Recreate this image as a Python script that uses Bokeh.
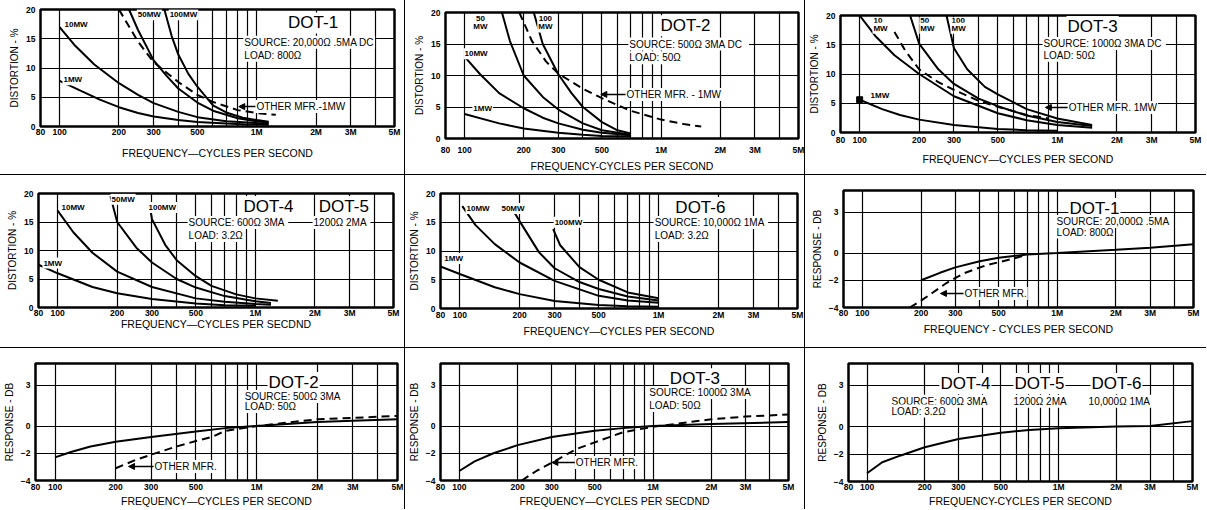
import math
from bokeh.plotting import figure
from bokeh.models import (Range1d, FixedTicker, CustomJSTickFormatter, Label,
                          Arrow, NormalHead, Div)
from bokeh.layouts import row, column
from bokeh.embed import file_html
from bokeh.resources import INLINE

# ---------------- axes / ticks ----------------
X_TICKS = [80, 100, 200, 300, 500, 1000, 2000, 3000, 5000]
X_TICK_LABELS = ["80", "100", "200", "300", "500", "1M", "2M", "3M", "5M"]
X_GRID = [100, 200, 300, 400, 500, 600, 700, 800, 900, 1000, 2000, 3000, 4000]
DIST_TICKS = [0, 5, 10, 15, 20]
DIST_GRID = [5, 10, 15]
RESP_TICKS = [-4, -2, 0, 3]
RESP_GRID = [-2, 0, 3]

# ---------------- data: DOT-1 distortion ----------------
d1_1mw_f = [100, 130, 160, 200, 250, 300, 400, 500, 700, 900, 1150]
d1_1mw_v = [7.8, 6.0, 4.6, 3.3, 2.3, 1.7, 1.1, 0.75, 0.5, 0.35, 0.3]
d1_10mw_f = [100, 120, 150, 200, 250, 300, 400, 500, 700, 1000, 1150]
d1_10mw_v = [17.0, 13.8, 10.6, 7.4, 5.4, 4.0, 2.5, 1.6, 0.9, 0.6, 0.5]
d1_50mw_f = [225, 250, 300, 350, 400, 500, 600, 800, 1000, 1150]
d1_50mw_v = [20.0, 16.5, 11.3, 8.6, 6.5, 4.1, 2.7, 1.4, 0.9, 0.7]
d1_100mw_f = [340, 370, 400, 450, 500, 600, 700, 850, 1000, 1150]
d1_100mw_v = [20.0, 15.5, 12.3, 9.0, 6.8, 3.6, 2.4, 1.5, 1.1, 0.8]
d1_other_f = [200, 250, 300, 400, 500, 600, 800, 1000, 1250]
d1_other_v = [20.0, 14.5, 11.0, 7.6, 5.4, 4.2, 2.8, 2.3, 2.0]

# ---------------- data: DOT-2 distortion ----------------
d2_1mw_f = [100, 150, 200, 300, 400, 500, 700]
d2_1mw_v = [3.9, 2.4, 1.6, 0.9, 0.6, 0.4, 0.3]
d2_10mw_f = [100, 120, 150, 200, 250, 300, 400, 500, 700]
d2_10mw_v = [13.0, 10.2, 7.2, 4.8, 3.3, 2.4, 1.4, 0.9, 0.5]
d2_50mw_f = [155, 170, 200, 250, 300, 400, 500, 700]
d2_50mw_v = [20.0, 15.5, 10.0, 6.6, 4.6, 2.4, 1.3, 0.6]
d2_100mw_f = [225, 250, 300, 350, 400, 500, 600, 700]
d2_100mw_v = [20.0, 15.0, 10.2, 7.2, 5.0, 2.6, 1.3, 0.8]
d2_other_f = [190, 220, 260, 300, 400, 500, 700, 1000, 1300, 1600]
d2_other_v = [20.0, 15.5, 12.2, 10.3, 7.9, 6.4, 4.4, 3.0, 2.3, 1.9]

# ---------------- data: DOT-3 distortion ----------------
d3_1mw_f = [100, 130, 160, 200, 300, 500, 700, 1000]
d3_1mw_v = [5.6, 4.0, 3.0, 2.2, 1.3, 0.6, 0.4, 0.3]
d3_10mw_f = [100, 120, 150, 200, 300, 500, 700, 1000, 1500]
d3_10mw_v = [20.0, 16.5, 13.2, 10.0, 6.2, 3.3, 2.1, 1.3, 0.8]
d3_50mw_f = [180, 200, 250, 300, 400, 500, 700, 1000, 1500]
d3_50mw_v = [20.0, 15.2, 10.8, 8.3, 5.8, 4.5, 2.9, 1.8, 1.1]
d3_100mw_f = [275, 300, 350, 430, 500, 700, 1000, 1500]
d3_100mw_v = [20.0, 14.4, 10.8, 7.8, 6.5, 4.0, 2.4, 1.3]
d3_other_f = [150, 170, 200, 250, 300, 400, 500, 700, 900]
d3_other_v = [17.2, 14.0, 10.8, 8.6, 7.3, 5.4, 4.4, 3.0, 2.4]

# ---------------- data: DOT-4 / DOT-5 distortion ----------------
d4_1mw_f = [80, 100, 150, 200, 300, 500, 700, 1000]
d4_1mw_v = [7.5, 6.0, 3.6, 2.5, 1.5, 0.7, 0.4, 0.3]
d4_10mw_f = [100, 120, 150, 200, 300, 500, 700, 1000, 1200]
d4_10mw_v = [17.0, 13.2, 9.6, 6.3, 3.6, 1.6, 1.0, 0.6, 0.5]
d4_50mw_f = [185, 200, 250, 300, 400, 500, 700, 1000, 1200]
d4_50mw_v = [19.5, 15.0, 10.5, 7.9, 5.0, 3.5, 2.0, 1.1, 0.8]
d4_100mw_f = [290, 300, 350, 400, 500, 600, 800, 1000, 1300]
d4_100mw_v = [18.5, 15.5, 11.0, 8.3, 5.5, 3.8, 2.3, 1.6, 1.2]

# ---------------- data: DOT-6 distortion ----------------
d6_1mw_f = [80, 100, 150, 200, 300, 500, 700, 1000]
d6_1mw_v = [7.3, 6.0, 3.7, 2.5, 1.3, 0.6, 0.4, 0.3]
d6_10mw_f = [103, 120, 150, 200, 300, 500, 700, 1000]
d6_10mw_v = [17.8, 14.5, 11.2, 8.0, 4.8, 2.2, 1.4, 1.0]
d6_50mw_f = [180, 200, 250, 300, 400, 500, 700, 1000]
d6_50mw_v = [17.8, 15.2, 9.8, 7.0, 4.6, 3.4, 2.1, 1.4]
d6_100mw_f = [295, 320, 400, 500, 700, 1000]
d6_100mw_v = [13.8, 11.0, 7.2, 5.0, 2.8, 1.8]

# ---------------- data: frequency response ----------------
r1_f = [200, 250, 300, 400, 500, 700, 1000, 2000, 3000, 5000]
r1_v = [-2.0, -1.45, -1.05, -0.6, -0.35, -0.1, 0.0, 0.25, 0.4, 0.65]
r1_other_f = [175, 200, 230, 270, 330, 430, 600, 700]
r1_other_v = [-4.0, -3.5, -2.9, -2.2, -1.5, -0.9, -0.4, -0.1]

r2_f = [100, 120, 150, 200, 300, 500, 700, 1000, 2000, 3000, 5000]
r2_v = [-2.3, -1.9, -1.5, -1.15, -0.8, -0.4, -0.15, 0.0, 0.3, 0.4, 0.5]
r2_other_f = [200, 250, 300, 400, 500, 600, 700, 1000, 2000, 3000, 5000]
r2_other_v = [-3.1, -2.5, -2.1, -1.5, -1.1, -0.8, -0.35, 0.0, 0.5, 0.6, 0.75]

r3_f = [100, 120, 150, 200, 300, 500, 700, 1000, 2000, 5000]
r3_v = [-3.3, -2.6, -2.0, -1.4, -0.8, -0.35, -0.15, 0.0, 0.15, 0.3]
r3_other_f = [210, 250, 300, 400, 500, 700, 1000, 2000, 3000, 5000]
r3_other_v = [-4.0, -3.3, -2.7, -1.7, -1.2, -0.45, -0.05, 0.5, 0.7, 0.85]

r4_f = [100, 120, 150, 200, 300, 500, 700, 1000, 2000, 3000, 5000]
r4_v = [-3.4, -2.6, -2.1, -1.5, -0.9, -0.45, -0.25, -0.12, 0.0, 0.05, 0.4]

FONT = "Liberation Sans"
X_MIN, X_MAX = 80, 5000
DIST_RANGE = (0, 20)
RESP_RANGE = (-4, 4.6)

fmt_code = """
for (let i = 0; i < t.length; i++) {
  if (Math.abs(t[i] - tick) < 1e-6 * t[i]) return l[i];
}
return '';
"""


def make_panel(kind, w, h, borders, xtitle, lab_so, title_so):
    yr = DIST_RANGE if kind == "dist" else RESP_RANGE
    left, right, top, bottom = borders
    p = figure(width=w, height=h, x_axis_type="log",
               x_range=Range1d(X_MIN, X_MAX), y_range=Range1d(*yr),
               output_backend="svg", toolbar_location=None,
               min_border_left=left, min_border_right=right,
               min_border_top=top, min_border_bottom=bottom)
    p.outline_line_color = "black"
    p.outline_line_width = 2.5
    p.background_fill_color = "white"
    p.border_fill_color = "white"

    p.xaxis.ticker = FixedTicker(ticks=X_TICKS, minor_ticks=[])
    p.xaxis.formatter = CustomJSTickFormatter(
        args=dict(t=X_TICKS, l=X_TICK_LABELS), code=fmt_code)
    p.xgrid.ticker = FixedTicker(ticks=X_GRID, minor_ticks=[])
    if kind == "dist":
        p.yaxis.ticker = FixedTicker(ticks=DIST_TICKS, minor_ticks=[])
        p.ygrid.ticker = FixedTicker(ticks=DIST_GRID, minor_ticks=[])
        p.yaxis.axis_label = "DISTORTION - %"
    else:
        p.yaxis.ticker = FixedTicker(ticks=RESP_TICKS, minor_ticks=[])
        p.ygrid.ticker = FixedTicker(ticks=RESP_GRID, minor_ticks=[])
        p.yaxis.axis_label = "RESPONSE - DB"
    p.xaxis.axis_label = xtitle

    for ax in (p.xaxis, p.yaxis):
        ax.axis_line_color = None
        ax.major_tick_line_color = None
        ax.minor_tick_line_color = None
        ax.major_tick_out = 0
        ax.major_tick_in = 0
        ax.minor_tick_out = 0
        ax.minor_tick_in = 0
        ax.major_label_text_font = FONT
        ax.major_label_text_font_size = "8.5px"
        ax.major_label_text_font_style = "bold"
        ax.major_label_text_color = "black"
        ax.axis_label_text_font = FONT
        ax.axis_label_text_font_style = "normal"
        ax.axis_label_text_color = "black"
    p.xaxis.major_label_standoff = lab_so
    p.xaxis.axis_label_standoff = title_so
    p.xaxis.axis_label_text_font_size = "10.5px"
    p.yaxis.major_label_standoff = 5
    p.yaxis.axis_label_standoff = 3
    p.yaxis.axis_label_text_font_size = "10px"

    for g in (p.xgrid, p.ygrid):
        g.grid_line_color = "black"
        g.grid_line_width = 1.2
        g.grid_line_alpha = 1.0
    return p


def pos(kind, fx, fy):
    lx0, lx1 = math.log10(X_MIN), math.log10(X_MAX)
    y0, y1 = DIST_RANGE if kind == "dist" else RESP_RANGE
    return 10 ** (lx0 + fx * (lx1 - lx0)), y0 + fy * (y1 - y0)


def add_text(p, kind, text, fx, fy, size, align="left", bold=False):
    x, y = pos(kind, fx, fy)
    p.add_layout(Label(x=x, y=y, text=text, text_font=FONT,
                       text_font_size=f"{size}px", text_align=align,
                       text_baseline="middle", text_color="black",
                       text_font_style="bold" if bold else "normal",
                       background_fill_color="white", padding=1))


def add_arrow(p, kind, fx0, fx1, fy):
    x0, y = pos(kind, fx0, fy)
    x1, _ = pos(kind, fx1, fy)
    p.add_layout(Arrow(end=NormalHead(size=6, line_color="black", fill_color="black"),
                       x_start=x0, y_start=y, x_end=x1, y_end=y,
                       line_color="black", line_width=1.5))


def solid(p, f, v):
    p.line(f, v, line_color="black", line_width=2)


def dashed(p, f, v):
    p.line(f, v, line_color="black", line_width=2, line_dash="8 5")


W1, W2, W3 = 404, 399, 401
H1, H2, H3 = 174, 172, 161
CUR = 8
SRC = 10
BIG = 17

# ---------- Row 1 ----------
p1 = make_panel("dist", W1, H1, (40, 10, 9, 48), "FREQUENCY—CYCLES PER SECOND", 0, 7)
for f, v in [(d1_1mw_f, d1_1mw_v), (d1_10mw_f, d1_10mw_v), (d1_50mw_f, d1_50mw_v), (d1_100mw_f, d1_100mw_v)]:
    solid(p1, f, v)
dashed(p1, d1_other_f, d1_other_v)
add_text(p1, "dist", "DOT-1", 0.77, 0.885, BIG, "center")
add_text(p1, "dist", "SOURCE: 20,000Ω .5MA DC", 0.573, 0.72, SRC)
add_text(p1, "dist", "LOAD: 800Ω", 0.573, 0.61, SRC)
add_text(p1, "dist", "10MW", 0.065, 0.87, CUR, bold=True)
add_text(p1, "dist", "1MW", 0.062, 0.40, CUR, bold=True)
add_text(p1, "dist", "50MW", 0.272, 0.955, CUR, bold=True)
add_text(p1, "dist", "100MW", 0.362, 0.955, CUR, bold=True)
add_text(p1, "dist", "OTHER MFR.-1MW", 0.607, 0.17, SRC)
add_arrow(p1, "dist", 0.607, 0.56, 0.17)

p2 = make_panel("dist", W2, H1, (40, 6, 12, 35), "FREQUENCY-CYCLES PER SECOND", 6, 2)
for f, v in [(d2_1mw_f, d2_1mw_v), (d2_10mw_f, d2_10mw_v), (d2_50mw_f, d2_50mw_v), (d2_100mw_f, d2_100mw_v)]:
    solid(p2, f, v)
dashed(p2, d2_other_f, d2_other_v)
add_text(p2, "dist", "DOT-2", 0.68, 0.895, BIG, "center")
add_text(p2, "dist", "SOURCE: 500Ω   3MA DC", 0.518, 0.75, SRC)
add_text(p2, "dist", "LOAD: 50Ω", 0.518, 0.64, SRC)
add_text(p2, "dist", "50", 0.099, 0.955, CUR, "center", True)
add_text(p2, "dist", "MW", 0.099, 0.885, CUR, "center", True)
add_text(p2, "dist", "100", 0.283, 0.955, CUR, "center", True)
add_text(p2, "dist", "MW", 0.283, 0.885, CUR, "center", True)
add_text(p2, "dist", "10MW", 0.051, 0.672, CUR, bold=True)
add_text(p2, "dist", "1MW", 0.076, 0.235, CUR, bold=True)
add_text(p2, "dist", "OTHER MFR. - 1MW", 0.51, 0.35, SRC)
add_arrow(p2, "dist", 0.51, 0.44, 0.35)

p3 = make_panel("dist", W3, H1, (35, 11, 15, 42), "FREQUENCY—CYCLES PER SECOND", 2, 5)
for f, v in [(d3_1mw_f, d3_1mw_v), (d3_10mw_f, d3_10mw_v), (d3_50mw_f, d3_50mw_v), (d3_100mw_f, d3_100mw_v)]:
    solid(p3, f, v)
dashed(p3, d3_other_f, d3_other_v)
p3.scatter(d3_1mw_f[:1], d3_1mw_v[:1], marker="square", size=6, color="black")
add_text(p3, "dist", "DOT-3", 0.71, 0.905, BIG, "center")
add_text(p3, "dist", "SOURCE: 1000Ω  3MA DC", 0.569, 0.76, SRC)
add_text(p3, "dist", "LOAD: 50Ω", 0.569, 0.66, SRC)
add_text(p3, "dist", "10", 0.09, 0.955, CUR, bold=True)
add_text(p3, "dist", "MW", 0.09, 0.89, CUR, bold=True)
add_text(p3, "dist", "50", 0.222, 0.955, CUR, bold=True)
add_text(p3, "dist", "MW", 0.222, 0.89, CUR, bold=True)
add_text(p3, "dist", "100", 0.31, 0.955, CUR, bold=True)
add_text(p3, "dist", "MW", 0.31, 0.89, CUR, bold=True)
add_text(p3, "dist", "1MW", 0.082, 0.316, CUR, bold=True)
add_text(p3, "dist", "OTHER MFR. 1MW", 0.64, 0.214, SRC)
add_arrow(p3, "dist", 0.64, 0.577, 0.214)

# ---------- Row 2 ----------
p4 = make_panel("dist", W1, H2, (38, 11, 18, 40), "FREQUENCY—CYCLES PER SECDND", 0, -3)
for f, v in [(d4_1mw_f, d4_1mw_v), (d4_10mw_f, d4_10mw_v), (d4_50mw_f, d4_50mw_v), (d4_100mw_f, d4_100mw_v)]:
    solid(p4, f, v)
add_text(p4, "dist", "DOT-4", 0.648, 0.885, BIG, "center")
add_text(p4, "dist", "DOT-5", 0.86, 0.885, BIG, "center")
add_text(p4, "dist", "SOURCE: 600Ω  3MA", 0.42, 0.746, SRC)
add_text(p4, "dist", "1200Ω  2MA", 0.772, 0.746, SRC)
add_text(p4, "dist", "LOAD: 3.2Ω", 0.42, 0.632, SRC)
add_text(p4, "dist", "10MW", 0.062, 0.877, CUR, bold=True)
add_text(p4, "dist", "50MW", 0.203, 0.95, CUR, bold=True)
add_text(p4, "dist", "100MW", 0.307, 0.877, CUR, bold=True)
add_text(p4, "dist", "1MW", 0.011, 0.39, CUR, bold=True)

p5 = make_panel("dist", W2, H2, (35, 7, 18, 39), "FREQUENCY—CYCLES PER SECOND", 1, 2)
for f, v in [(d6_1mw_f, d6_1mw_v), (d6_10mw_f, d6_10mw_v), (d6_50mw_f, d6_50mw_v), (d6_100mw_f, d6_100mw_v)]:
    solid(p5, f, v)
add_text(p5, "dist", "DOT-6", 0.728, 0.878, BIG, "center")
add_text(p5, "dist", "SOURCE: 10,000Ω  1MA", 0.597, 0.748, SRC)
add_text(p5, "dist", "LOAD: 3.2Ω", 0.597, 0.635, SRC)
add_text(p5, "dist", "10MW", 0.07, 0.87, CUR, bold=True)
add_text(p5, "dist", "50MW", 0.168, 0.87, CUR, bold=True)
add_text(p5, "dist", "100MW", 0.317, 0.75, CUR, bold=True)
add_text(p5, "dist", "1MW", 0.008, 0.435, CUR, bold=True)

p6 = make_panel("resp", W3, H2, (38, 13, 15, 40), "FREQUENCY - CYCLES PER SECOND", 0, 2)
solid(p6, r1_f, r1_v)
dashed(p6, r1_other_f, r1_other_v)
add_text(p6, "resp", "DOT-1", 0.717, 0.846, BIG, "center")
add_text(p6, "resp", "SOURCE: 20,000Ω  .5MA", 0.606, 0.735, SRC)
add_text(p6, "resp", "LOAD: 800Ω", 0.606, 0.645, SRC)
add_text(p6, "resp", "OTHER MFR.", 0.343, 0.12, SRC)
add_arrow(p6, "resp", 0.343, 0.277, 0.12)

# ---------- Row 3 ----------
p7 = make_panel("resp", W1, H3, (35, 7, 15, 29), "FREQUENCY—CYCLES PER SECOND", 1, 0)
solid(p7, r2_f, r2_v)
dashed(p7, r2_other_f, r2_other_v)
add_text(p7, "resp", "DOT-2", 0.713, 0.838, BIG, "center")
add_text(p7, "resp", "SOURCE: 500Ω   3MA", 0.575, 0.718, SRC)
add_text(p7, "resp", "LOAD: 50Ω", 0.575, 0.632, SRC)
add_text(p7, "resp", "OTHER MFR.", 0.326, 0.12, SRC)
add_arrow(p7, "resp", 0.326, 0.257, 0.12)

p8 = make_panel("resp", W2, H3, (33, 16, 15, 29), "FREQUENCY—CYCLES PER SECDND", 1, 0)
solid(p8, r3_f, r3_v)
dashed(p8, r3_other_f, r3_other_v)
add_text(p8, "resp", "DOT-3", 0.731, 0.87, BIG, "center")
add_text(p8, "resp", "SOURCE: 1000Ω  3MA", 0.597, 0.752, SRC)
add_text(p8, "resp", "LOAD: 50Ω", 0.597, 0.64, SRC)
add_text(p8, "resp", "OTHER MFR.", 0.386, 0.154, SRC)
add_arrow(p8, "resp", 0.386, 0.32, 0.154)

p9 = make_panel("resp", W3, H3, (43, 14, 15, 27), "FREQUENCY-CYCLES PER SECOND", 0, 0)
solid(p9, r4_f, r4_v)
add_text(p9, "resp", "DOT-4", 0.34, 0.83, BIG, "center")
add_text(p9, "resp", "DOT-5", 0.555, 0.83, BIG, "center")
add_text(p9, "resp", "DOT-6", 0.779, 0.83, BIG, "center")
add_text(p9, "resp", "SOURCE: 600Ω  3MA", 0.122, 0.68, SRC)
add_text(p9, "resp", "1200Ω  2MA", 0.477, 0.68, SRC)
add_text(p9, "resp", "10,000Ω  1MA", 0.695, 0.68, SRC)
add_text(p9, "resp", "LOAD: 3.2Ω", 0.122, 0.597, SRC)


def vsep(h):
    return Div(text="", width=1, height=h, margin=0,
               styles={"background-color": "black"})


def hsep():
    return Div(text="", width=W1 + W2 + W3 + 2, height=1, margin=0,
               styles={"background-color": "black"})


def cell(p):
    return column(p, spacing=0)


layout = column(
    row(cell(p1), vsep(H1), cell(p2), vsep(H1), cell(p3), spacing=0),
    hsep(),
    row(cell(p4), vsep(H2), cell(p5), vsep(H2), cell(p6), spacing=0),
    hsep(),
    row(cell(p7), vsep(H3), cell(p8), vsep(H3), cell(p9), spacing=0),
    spacing=0,
)

open("out.html", "w").write(file_html(layout, INLINE))
